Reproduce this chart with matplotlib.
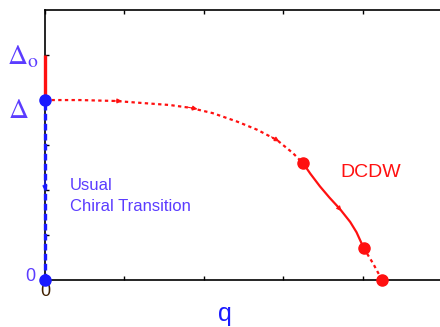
import numpy as np
import matplotlib
matplotlib.use('Agg')
import matplotlib.pyplot as plt

plt.rcParams['font.family'] = ['Liberation Sans', 'DejaVu Sans']
plt.rcParams['mathtext.fontset'] = 'stix'

# DCDW path (q, Delta)
q_dot1 = [0.0, 0.44, 0.88, 1.26, 1.57, 1.82, 2.11, 2.42, 2.67, 2.92, 3.12, 3.25]
d_dot1 = [4.0, 4.0, 3.98, 3.93, 3.89, 3.83, 3.71, 3.52, 3.34, 3.11, 2.82, 2.59]
q_solid = [3.25, 3.34, 3.46, 3.58, 3.71, 3.84, 3.92, 4.01]
d_solid = [2.59, 2.36, 2.08, 1.83, 1.58, 1.29, 1.06, 0.71]
q_dot2 = [4.01, 4.13, 4.24]
d_dot2 = [0.71, 0.36, 0.0]
q_pts = [3.25, 4.01, 4.24]
d_pts = [2.59, 0.71, 0.0]

delta, delta0 = 4.0, 5.0
red = '#ff1010'
blue = '#1a1aff'
tblue = '#5b3cff'

fig = plt.figure(figsize=(4.4, 3.27), dpi=100)
ax = fig.add_axes([0.102, 0.144, 0.898, 0.825])

# red Delta_0 segment and blue chiral transition line
ax.plot([0, 0], [delta, delta0], color=red, lw=2.4, solid_capstyle='butt',
        zorder=3, clip_on=False)
ax.plot([0, 0], [0, delta], color=blue, lw=2.4, ls=(0, (2, 1)), zorder=3,
        clip_on=False)
ax.plot([0, 0], [0, delta], 'o', color=blue, ms=8, zorder=5, clip_on=False)
ax.annotate('', xy=(0, 1.98), xytext=(0, 2.2),
            arrowprops=dict(arrowstyle='-|>', color=blue, lw=0.8,
                            mutation_scale=7, shrinkA=0, shrinkB=0))

ax.plot(q_dot1, d_dot1, color=red, lw=1.6, ls=(0, (1.5, 1.5)))
ax.plot(q_solid, d_solid, color=red, lw=1.6)
ax.plot(q_dot2, d_dot2, color=red, lw=1.6, ls=(0, (1.5, 1.5)))
ax.plot(q_pts, d_pts, 'o', color=red, ms=8, zorder=5, clip_on=False)

# direction arrows on the curve
for (x0, y0), (x1, y1) in [((0.85, 3.98), (0.97, 3.98)),
                           ((1.80, 3.84), (1.92, 3.80)),
                           ((2.85, 3.18), (2.95, 3.08)),
                           ((3.65, 1.70), (3.73, 1.53))]:
    ax.annotate('', xy=(x1, y1), xytext=(x0, y0),
                arrowprops=dict(arrowstyle='-|>', color=red, lw=0.8,
                                mutation_scale=7, shrinkA=0, shrinkB=0))

ax.set_xlim(0, 4.97)
ax.set_ylim(0, 6)
ax.set_xticks([0, 1, 2, 3, 4])
ax.set_xticklabels(['0', '', '', '', ''])
ax.set_yticks([1, 2, 3, 4, 5])
ax.set_yticklabels([])
ax.tick_params(direction='in', length=3, width=1, top=True, right=False,
               labelsize=13, labelcolor='#402000', pad=2)
for s in ['left', 'bottom', 'top']:
    ax.spines[s].set_linewidth(1.2)
ax.spines['right'].set_visible(False)

ax.text(-0.08, delta0 - 0.05, r'$\Delta_{\mathrm{o}}$', color=tblue, fontsize=20,
        ha='right', va='center', clip_on=False)
ax.text(-0.2, delta - 0.25, r'$\Delta$', color=tblue, fontsize=20,
        ha='right', va='center', clip_on=False)
ax.text(-0.12, 0.07, '0', color=tblue, fontsize=13, ha='right', va='center')
ax.text(2.27, -0.75, 'q', color=blue, fontsize=18, ha='center', va='center')

ax.text(0.31, 1.87, 'Usual\nChiral Transition', color=tblue, fontsize=12,
        ha='left', va='center', linespacing=1.55)
ax.text(3.72, 2.38, 'DCDW', color=red, fontsize=14, ha='left', va='center')

fig.savefig('out.png', dpi=100)
